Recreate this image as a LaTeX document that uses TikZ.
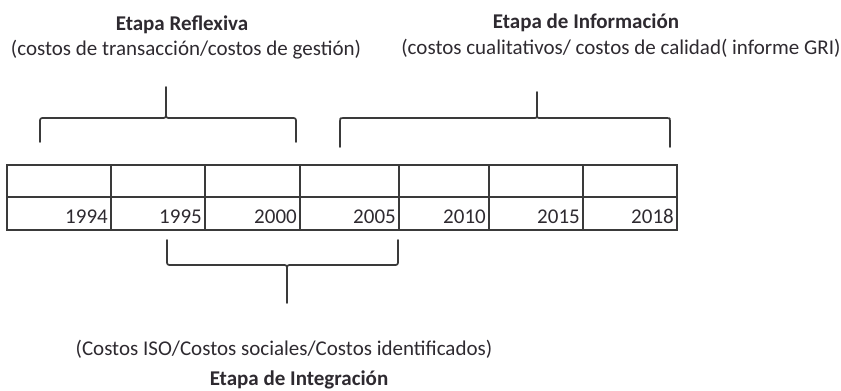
\documentclass[tikz,border=0pt]{standalone}
\usepackage{fontspec}
\setmainfont{Carlito}
\definecolor{linec}{HTML}{3A3A3A}
\definecolor{txt}{HTML}{2E2A30}
\begin{document}
\begin{tikzpicture}[x=1pt,y=-1pt,
  grid/.style={draw=linec, line width=1.1pt},
  brace/.style={draw=linec, line width=1.7pt, line join=round, line cap=round},
  ttl/.style={font=\fontsize{21}{23}\selectfont\bfseries, text=txt, inner sep=0pt, anchor=base},
  sub/.style={font=\fontsize{21}{23}\selectfont, text=txt, inner sep=0pt, anchor=base},
  yr/.style={font=\fontsize{21}{23}\selectfont, text=txt, anchor=base east, inner sep=0pt}]
\useasboundingbox (0,0) rectangle (841,391);
% table
\draw[grid] (7,165) rectangle (677,230);
\draw[grid] (7,197) -- (677,197);
\foreach \x in {111,205,300,399,489,583}{\draw[grid] (\x,165) -- (\x,230);}
\node[yr] (y1) at (108,223) {1994};
\node[yr] (y2) at (202,223) {1995};
\node[yr] (y3) at (297,223) {2000};
\node[yr] (y4) at (396,223) {2005};
\node[yr] (y5) at (486,223) {2010};
\node[yr] (y6) at (580,223) {2015};
\node[yr] (y7) at (674,223) {2018};
% top brace 1
\draw[brace] (40,142) -- (40,123) .. controls (40,118) .. (45,118) -- (161,118) .. controls (166,118) .. (166,113) -- (166,87);
\draw[brace] (296,142) -- (296,123) .. controls (296,118) .. (291,118) -- (171,118) .. controls (166,118) .. (166,113);
% top brace 2
\draw[brace] (340,147) -- (340,121) .. controls (340,118) .. (343,118) -- (533,118) .. controls (537,118) .. (537,114) -- (537,92);
\draw[brace] (670,147) -- (670,121) .. controls (670,118) .. (667,118) -- (541,118) .. controls (537,118) .. (537,114);
% bottom brace
\draw[brace] (167,240) -- (167,260) .. controls (167,265) .. (172,265) -- (282,265) .. controls (287,265) .. (287,270) -- (287,303);
\draw[brace] (398,240) -- (398,260) .. controls (398,265) .. (393,265) -- (292,265) .. controls (287,265) .. (287,270);
% texts
\node[ttl] (t1) at (182,30) {Etapa Reflexiva};
\node[sub] (s1) at (186,55) {(costos de transacción/costos de gestión)};
\node[ttl] (t2) at (586,28) {Etapa de Información};
\node[sub] (s2) at (621,54) {(costos cualitativos/ costos de calidad( informe GRI)};
\node[sub] (s3) at (284,355) {(Costos ISO/Costos sociales/Costos identificados)};
\node[ttl] (t3) at (299,385) {Etapa de Integración};
\end{tikzpicture}
\end{document}
